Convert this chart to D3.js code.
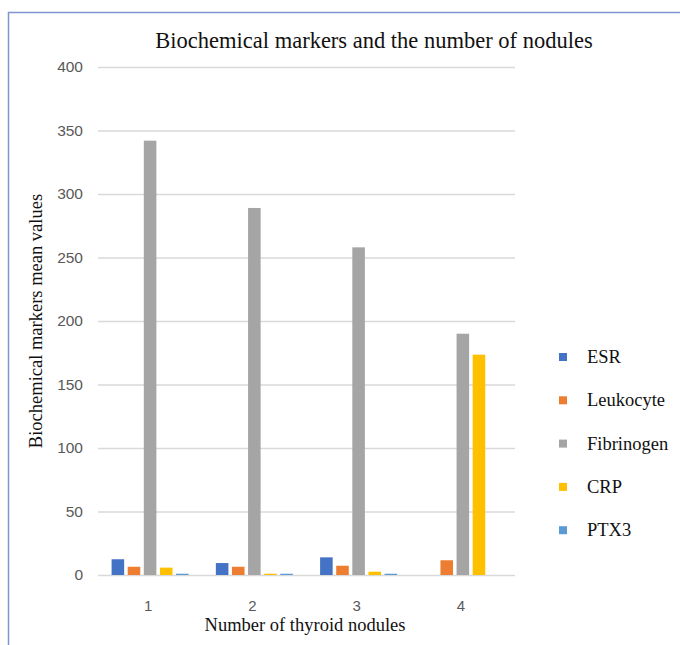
<!DOCTYPE html>
<html>
<head>
<meta charset="utf-8">
<script src="https://cdn.jsdelivr.net/npm/d3@7"></script>
<style>
  body { margin: 0; background: #fff; }
</style>
</head>
<body>
<div id="chart"></div>
<script>
// ----------------------
// Data
// ----------------------
const categories = ["1", "2", "3", "4"];
const series = ["ESR", "Leukocyte", "Fibrinogen", "CRP", "PTX3"];
const colors = ["#4472C4", "#ED7D31", "#A5A5A5", "#FFC000", "#5B9BD5"];

// one array per marker, in category order
const esrValues = [12.4, 9.4, 13.9, 0];
const leukocyteValues = [6.5, 6.5, 7.3, 11.6];
const fibrinogenValues = [342, 289, 258, 190];
const crpValues = [5.8, 1.0, 2.6, 173.5];
const ptx3Values = [1.0, 1.0, 1.0, 0];
const yTicks = [0, 50, 100, 150, 200, 250, 300, 350, 400];

const valuesBySeries = [esrValues, leukocyteValues, fibrinogenValues, crpValues, ptx3Values];

// ----------------------
// Setup
// ----------------------
const W = 680, H = 645;
const plot = { left: 98, right: 515, top: 67, bottom: 575 };

const svg = d3.select("#chart")
    .append("svg")
    .attr("width", W)
    .attr("height", H);

// frame border (top and left visible)
svg.append("path")
    .attr("d", `M8.5,${H} L8.5,12.5 L${W},12.5`)
    .attr("fill", "none")
    .attr("stroke", "#7F95D0")
    .attr("stroke-width", 1.5);

// ----------------------
// Scales
// ----------------------
const x0 = d3.scaleBand()
    .domain(categories)
    .range([plot.left, plot.right])
    .padding(0);

const x1 = d3.scaleBand()
    .domain(series)
    .range([13.6, 90.6])
    .paddingInner(0.22);

const y = d3.scaleLinear()
    .domain([0, 400])
    .range([plot.bottom, plot.top]);

const color = d3.scaleOrdinal().domain(series).range(colors);

// ----------------------
// Gridlines + y axis
// ----------------------
const yAxis = svg.append("g")
    .attr("transform", `translate(${plot.left},0)`)
    .call(d3.axisLeft(y)
        .tickValues(yTicks)
        .tickSize(-(plot.right - plot.left))
        .tickPadding(15));

yAxis.select(".domain").remove();
yAxis.selectAll(".tick line")
    .attr("stroke", "#D9D9D9")
    .attr("stroke-width", 1.3);
yAxis.selectAll(".tick text")
    .attr("fill", "#595959")
    .style("font-family", "'Liberation Sans', Arial, sans-serif")
    .style("font-size", "15.5px");

// ----------------------
// Bars
// ----------------------
const rows = categories.map((c, i) => ({
    cat: c,
    vals: series.map((s, j) => ({ key: s, value: valuesBySeries[j][i] }))
}));

svg.append("g")
    .selectAll("g")
    .data(rows)
    .join("g")
    .attr("transform", d => `translate(${x0(d.cat)},0)`)
    .selectAll("rect")
    .data(d => d.vals.filter(v => v.value > 0))
    .join("rect")
    .attr("x", d => x1(d.key))
    .attr("y", d => y(d.value))
    .attr("width", x1.bandwidth())
    .attr("height", d => y(0) - y(d.value))
    .attr("fill", d => color(d.key));

// ----------------------
// X axis labels
// ----------------------
const xAxis = svg.append("g")
    .attr("transform", `translate(-2,${plot.bottom})`)
    .call(d3.axisBottom(x0).tickSize(0).tickPadding(25));

xAxis.select(".domain").remove();
xAxis.selectAll(".tick text")
    .attr("fill", "#595959")
    .style("font-family", "'Liberation Sans', Arial, sans-serif")
    .style("font-size", "15px");

// ----------------------
// Titles
// ----------------------
const serif = "'Liberation Serif', 'Times New Roman', serif";

svg.append("text")
    .attr("x", 374)
    .attr("y", 48)
    .attr("text-anchor", "middle")
    .style("font-family", serif)
    .style("font-size", "22.5px")
    .attr("fill", "#111")
    .text("Biochemical  markers and the number of nodules");

svg.append("text")
    .attr("x", 305)
    .attr("y", 631)
    .attr("text-anchor", "middle")
    .style("font-family", serif)
    .style("font-size", "18.5px")
    .attr("fill", "#111")
    .text("Number of thyroid nodules");

svg.append("text")
    .attr("transform", "translate(42,321) rotate(-90)")
    .attr("text-anchor", "middle")
    .style("font-family", serif)
    .style("font-size", "18.5px")
    .attr("fill", "#111")
    .text("Biochemical markers mean values");

// ----------------------
// Legend
// ----------------------
const legend = svg.append("g")
    .selectAll("g")
    .data(series)
    .join("g")
    .attr("transform", (d, i) => `translate(559,${357 + i * 43.3})`);

legend.append("rect")
    .attr("x", 0)
    .attr("y", -4)
    .attr("width", 8)
    .attr("height", 8)
    .attr("fill", d => color(d));

legend.append("text")
    .attr("x", 28)
    .attr("y", 6)
    .style("font-family", serif)
    .style("font-size", "18.5px")
    .attr("fill", "#111")
    .text(d => d);
</script>
</body>
</html>
